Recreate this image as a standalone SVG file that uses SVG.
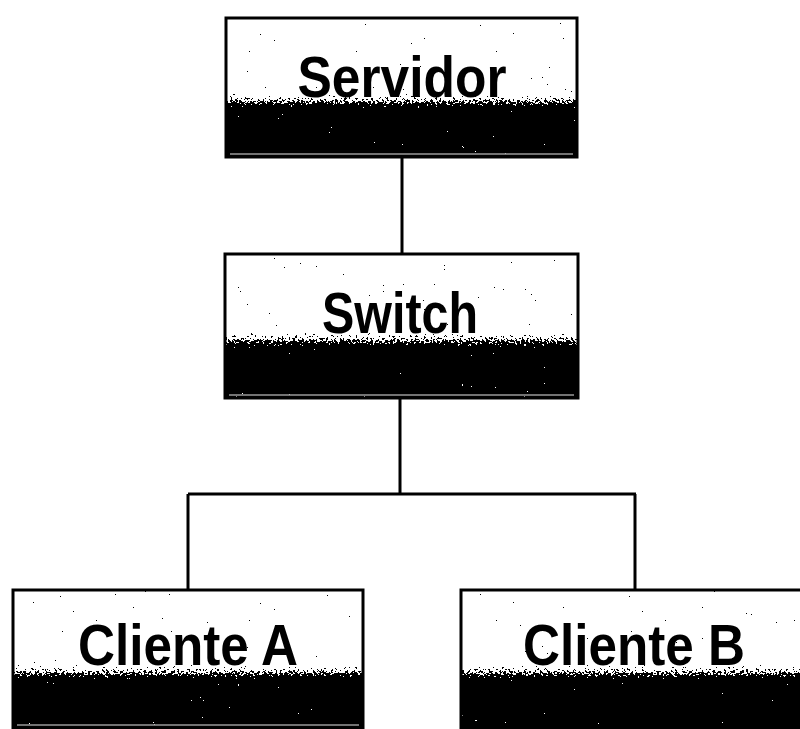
<svg xmlns="http://www.w3.org/2000/svg" width="800" height="729" viewBox="0 0 800 729">
  <defs>
    <!-- white top fading into a black lower half -->
    <linearGradient id="shade" x1="0" y1="0" x2="0" y2="1">
      <stop offset="0" stop-color="#fff"/>
      <stop offset="0.54" stop-color="#fff"/>
      <stop offset="0.59" stop-color="#999"/>
      <stop offset="0.65" stop-color="#000"/>
      <stop offset="1" stop-color="#000"/>
    </linearGradient>
    <!-- dithered, grainy threshold of the shading -->
    <filter id="grain" x="0" y="0" width="1" height="1" color-interpolation-filters="sRGB">
      <feTurbulence type="fractalNoise" baseFrequency="0.45" numOctaves="3" seed="7" result="n"/>
      <feColorMatrix in="n" type="matrix" values="1 0 0 0 0  1 0 0 0 0  1 0 0 0 0  0 0 0 0 1" result="g"/>
      <feComposite in="SourceGraphic" in2="g" operator="arithmetic" k1="0" k2="1" k3="1.5" k4="-0.75" result="m"/>
      <feComponentTransfer in="m" result="t">
        <feFuncR type="discrete" tableValues="0 1"/>
        <feFuncG type="discrete" tableValues="0 1"/>
        <feFuncB type="discrete" tableValues="0 1"/>
        <feFuncA type="linear" slope="0" intercept="1"/>
      </feComponentTransfer>
      <feComposite in="t" in2="SourceAlpha" operator="in"/>
    </filter>
    <style>
      .fill { fill: url(#shade); filter: url(#grain); }
      .frame { fill: none; stroke: #000; stroke-width: 3; }
      .inner { fill: none; stroke: #9a9a9a; stroke-width: 1.5; }
      .label { font-family: "Liberation Sans", Arial, sans-serif; font-weight: bold; font-size: 58px; fill: #000; text-anchor: middle; }
      .wire { fill: none; stroke: #000; stroke-width: 3; }
    </style>
  </defs>

  <rect width="800" height="729" fill="#fff"/>

  <!-- connectors -->
  <g id="connectors">
    <path class="wire" d="M402 157 V254"/>
    <path class="wire" d="M400 398 V494"/>
    <path class="wire" d="M188 494 H636"/>
    <path class="wire" d="M188 494 V590"/>
    <path class="wire" d="M635 494 V590"/>
  </g>

  <g id="servidor">
    <rect class="fill" x="226" y="18" width="351" height="139"/>
    <line class="inner" x1="230" y1="154" x2="573" y2="154"/>
    <rect class="frame" x="226" y="18" width="351" height="139"/>
    <text class="label" x="402" y="97" font-size="61" textLength="209" lengthAdjust="spacingAndGlyphs">Servidor</text>
  </g>

  <g id="switch">
    <rect class="fill" x="225" y="254" width="353" height="144"/>
    <line class="inner" x1="229" y1="395" x2="574" y2="395"/>
    <rect class="frame" x="225" y="254" width="353" height="144"/>
    <text class="label" x="400" y="333" textLength="156" lengthAdjust="spacingAndGlyphs">Switch</text>
  </g>

  <g id="cliente-a">
    <rect class="fill" x="13" y="590" width="350" height="138"/>
    <line class="inner" x1="17" y1="725" x2="359" y2="725"/>
    <rect class="frame" x="13" y="590" width="350" height="138"/>
    <text class="label" x="188" y="665" font-size="59" textLength="220" lengthAdjust="spacingAndGlyphs">Cliente A</text>
  </g>

  <g id="cliente-b">
    <rect class="fill" x="461" y="590" width="348" height="138"/>
    <rect class="frame" x="461" y="590" width="348" height="138"/>
    <text class="label" x="634" y="665" font-size="59" textLength="222" lengthAdjust="spacingAndGlyphs">Cliente B</text>
  </g>
</svg>
